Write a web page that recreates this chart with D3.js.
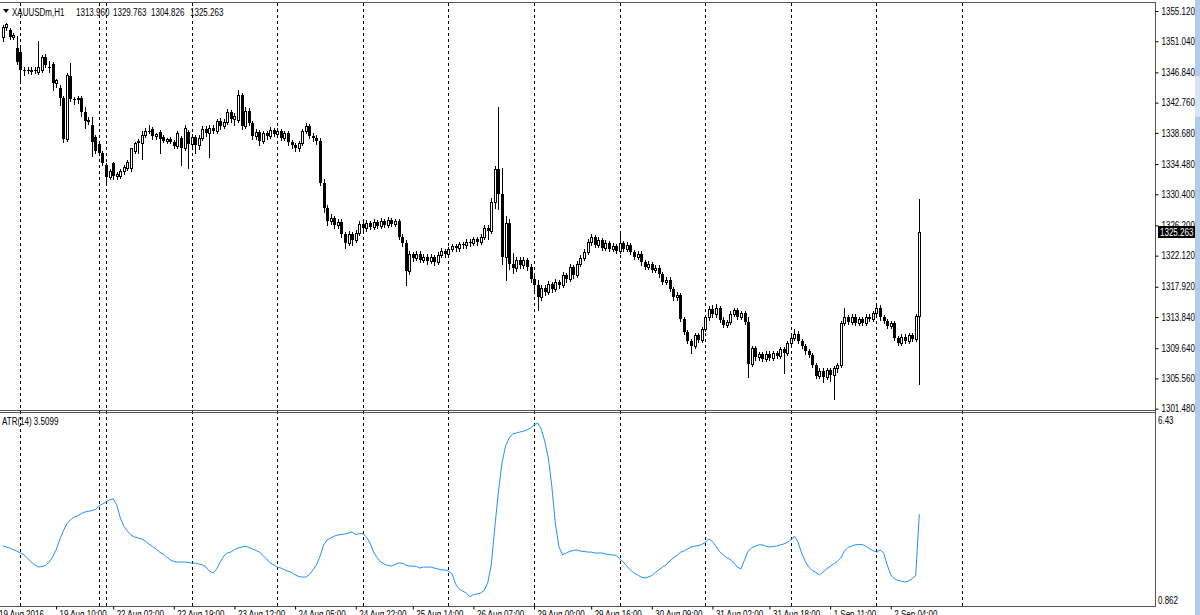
<!DOCTYPE html>
<html><head><meta charset="utf-8">
<script src="https://cdn.jsdelivr.net/npm/d3@7"></script>
<style>
body{margin:0;background:#fff;overflow:hidden}
svg text{font-family:"Liberation Sans",Arial,sans-serif;font-size:10px;fill:#000}
</style>
</head><body>
<svg id="chart" width="1200" height="615"></svg>
<script>
// ---------- data ----------
const symbolLabel = "XAUUSDm,H1";
const headerValues = ["1313.960", "1329.763", "1304.826", "1325.263"];
const lastPrice = 1325.263;
const atrName = "ATR(14) 3.5099";

const open = [
1351.6,1352.9,1352.6,1351.6,1350.1,1349.6,1347.2,1347.1,1347.0,1347.2,
1346.9,1347.2,1348.9,1347.6,1348.0,1345.4,1344.7,1343.4,1337.9,1346.3,
1343.2,1343.2,1343.4,1341.5,1340.3,1339.7,1338.1,1337.2,1336.0,1334.3,
1332.7,1334.6,1332.9,1332.8,1333.6,1333.9,1333.9,1336.3,1337.5,1337.3,
1338.4,1339.0,1339.2,1338.3,1338.8,1338.1,1337.6,1337.8,1337.5,1336.9,
1338.0,1336.6,1338.8,1337.2,1338.1,1337.0,1338.0,1339.2,1338.6,1339.4,
1339.0,1340.3,1339.6,1340.2,1341.5,1340.6,1340.4,1343.8,1339.6,1341.6,
1340.0,1338.2,1338.8,1337.6,1338.7,1338.2,1339.1,1338.5,1338.9,1338.0,
1338.6,1337.4,1337.0,1336.6,1337.3,1338.9,1339.6,1338.3,1338.0,1337.6,
1331.9,1328.6,1326.8,1327.2,1326.2,1326.7,1325.0,1323.8,1325.0,1324.2,
1325.2,1326.4,1325.8,1326.5,1326.0,1326.6,1326.1,1326.8,1326.3,1326.9,
1326.4,1326.8,1324.6,1323.8,1320.0,1322.3,1321.8,1322.4,1321.6,1322.0,
1321.4,1321.9,1321.3,1322.2,1322.7,1322.3,1323.0,1323.4,1323.1,1323.7,
1323.5,1324.0,1323.8,1324.3,1324.0,1324.6,1325.8,1325.5,1329.4,1333.8,
1330.5,1322.0,1326.5,1321.0,1320.5,1321.6,1320.8,1321.5,1320.6,1319.0,
1318.2,1316.5,1317.8,1317.2,1318.3,1317.6,1318.6,1318.2,1319.5,1319.0,
1320.6,1319.5,1321.0,1321.8,1322.6,1323.9,1324.6,1323.6,1324.2,1323.2,
1323.8,1323.0,1323.4,1322.8,1323.8,1323.0,1323.5,1322.6,1322.0,1322.4,
1321.2,1320.6,1321.0,1320.2,1320.5,1319.6,1318.6,1318.9,1317.6,1316.5,
1316.8,1313.6,1311.8,1310.6,1310.0,1311.4,1310.8,1312.2,1313.8,1314.9,
1314.2,1315.0,1313.5,1312.8,1313.2,1314.3,1314.8,1313.9,1314.4,1313.2,
1307.5,1309.6,1308.4,1308.8,1308.2,1308.9,1308.3,1309.0,1308.6,1309.5,
1309.0,1310.3,1311.0,1311.6,1310.6,1309.9,1309.2,1308.7,1307.4,1305.9,
1306.6,1305.8,1306.7,1306.0,1307.0,1307.4,1313.0,1313.8,1313.2,1313.9,
1313.0,1313.6,1313.1,1313.9,1313.6,1314.4,1315.1,1313.8,1313.3,1312.6,
1313.0,1311.0,1310.4,1311.2,1310.6,1311.4,1310.9,1313.96];

const high = [
1353.2,1353.5,1352.8,1352.1,1351.7,1350.2,1347.6,1347.5,1347.5,1347.6,
1351.1,1349.2,1349.3,1348.4,1348.2,1346.0,1345.1,1343.6,1346.7,1348.1,
1343.5,1343.7,1343.6,1342.2,1340.8,1340.8,1338.4,1337.6,1336.3,1334.6,
1333.8,1334.8,1333.4,1333.8,1334.4,1335.0,1336.7,1337.5,1337.9,1338.9,
1339.3,1339.8,1339.5,1338.7,1339.1,1338.4,1338.0,1338.1,1337.7,1338.9,
1338.3,1339.8,1339.1,1338.5,1338.4,1338.4,1339.6,1339.6,1339.8,1339.8,
1340.6,1340.7,1340.5,1341.9,1341.8,1341.3,1344.5,1344.1,1342.2,1342.0,
1340.3,1339.2,1339.1,1339.0,1339.0,1339.5,1339.4,1339.3,1339.2,1338.9,
1338.9,1337.7,1337.3,1337.6,1339.2,1340.0,1339.9,1338.6,1338.4,1338.0,
1332.4,1329.0,1327.7,1327.5,1327.1,1327.0,1325.3,1325.4,1325.3,1325.6,
1326.8,1326.7,1326.9,1326.8,1327.0,1326.9,1327.2,1327.1,1327.3,1327.2,
1327.1,1327.0,1325.0,1324.2,1322.7,1322.6,1322.8,1322.7,1322.4,1322.3,
1322.3,1322.2,1322.6,1323.1,1323.0,1323.3,1323.7,1323.7,1324.0,1324.0,
1324.3,1324.3,1324.6,1324.6,1325.0,1326.2,1326.2,1329.9,1334.2,1342.2,
1334.0,1327.5,1327.0,1322.5,1322.0,1322.0,1321.9,1321.8,1321.0,1319.4,
1318.8,1318.2,1318.1,1318.7,1318.6,1319.0,1318.9,1319.9,1319.8,1321.0,
1320.9,1321.4,1322.2,1323.0,1324.3,1325.1,1324.9,1324.6,1324.5,1324.2,
1324.1,1323.8,1323.7,1325.0,1324.1,1323.9,1323.8,1322.9,1322.8,1322.7,
1321.5,1321.4,1321.3,1320.9,1320.8,1319.9,1319.3,1319.2,1317.9,1317.2,
1317.1,1313.9,1312.1,1310.9,1311.7,1311.7,1312.5,1314.1,1315.3,1315.5,
1315.6,1315.3,1313.8,1313.5,1314.6,1315.1,1315.1,1314.7,1314.7,1313.8,
1309.9,1309.9,1309.1,1309.1,1309.2,1309.2,1309.3,1309.3,1309.8,1309.8,
1310.6,1311.3,1312.2,1311.9,1310.9,1310.2,1309.5,1309.0,1307.7,1306.9,
1306.9,1307.0,1307.0,1307.3,1307.7,1313.3,1315.0,1314.1,1314.2,1314.2,
1313.9,1313.9,1314.2,1314.2,1314.7,1315.6,1315.4,1314.1,1313.6,1313.3,
1313.3,1311.3,1311.5,1311.5,1311.7,1311.7,1314.3,1329.763];

const low = [
1351.1,1352.5,1351.4,1351.4,1348.0,1345.8,1346.5,1346.7,1346.6,1346.8,
1346.6,1346.9,1347.6,1346.9,1344.5,1344.9,1342.4,1337.5,1337.6,1343.0,
1342.6,1342.7,1340.9,1339.3,1339.9,1335.5,1336.0,1335.8,1334.3,1331.6,
1332.5,1332.5,1332.5,1332.6,1333.2,1333.7,1333.6,1336.0,1336.0,1335.2,
1338.1,1338.6,1337.9,1337.9,1336.0,1337.4,1337.3,1337.3,1336.6,1336.7,
1334.4,1336.4,1334.0,1336.8,1336.0,1336.5,1337.7,1338.2,1335.4,1338.6,
1338.7,1339.2,1339.3,1339.9,1340.2,1339.8,1340.2,1339.2,1339.3,1339.7,
1337.8,1337.9,1337.0,1337.3,1337.9,1338.0,1338.2,1338.2,1337.7,1337.7,
1337.1,1336.6,1336.2,1336.3,1337.0,1338.6,1338.0,1337.6,1337.2,1331.6,
1328.0,1326.3,1326.4,1325.8,1325.9,1324.7,1323.2,1323.5,1323.5,1323.9,
1324.9,1325.4,1325.5,1325.7,1325.7,1325.8,1325.9,1326.0,1326.0,1326.1,
1326.1,1324.3,1323.4,1318.2,1319.6,1321.4,1321.5,1321.2,1321.3,1321.0,
1321.1,1320.9,1321.0,1321.9,1321.9,1322.0,1322.7,1322.8,1322.8,1323.1,
1323.2,1323.4,1323.5,1323.6,1323.7,1324.3,1324.3,1325.2,1328.6,1328.4,
1321.0,1318.8,1320.3,1319.8,1320.0,1320.4,1320.5,1320.2,1318.5,1317.2,
1314.8,1316.1,1316.8,1316.9,1317.2,1317.3,1317.8,1317.9,1318.6,1318.7,
1319.1,1319.2,1320.7,1321.5,1322.3,1323.6,1323.3,1323.3,1322.9,1322.9,
1322.7,1322.7,1322.5,1322.5,1322.7,1322.7,1322.3,1321.7,1321.7,1320.9,
1320.3,1320.3,1319.9,1319.9,1319.3,1318.3,1318.3,1317.3,1316.2,1316.2,
1313.3,1311.5,1310.3,1309.0,1309.7,1310.5,1310.5,1311.9,1313.5,1313.9,
1313.9,1313.2,1312.5,1312.5,1312.9,1314.0,1313.6,1313.6,1312.9,1305.8,
1307.2,1308.1,1308.1,1307.9,1307.9,1308.0,1308.0,1308.3,1308.3,1306.3,
1308.7,1310.0,1310.7,1310.3,1309.6,1308.9,1308.4,1307.1,1305.6,1305.6,
1305.1,1305.5,1305.2,1302.8,1306.4,1307.1,1312.7,1312.9,1312.9,1312.7,
1312.7,1312.8,1312.8,1313.3,1313.3,1314.1,1313.5,1313.0,1312.3,1312.3,
1310.7,1310.1,1310.1,1310.3,1310.3,1310.6,1310.6,1304.826];

const close = [
1353.0,1353.3,1351.6,1351.9,1348.3,1347.2,1347.1,1347.0,1347.2,1347.0,
1347.6,1348.9,1347.8,1347.4,1345.4,1345.8,1343.4,1337.9,1346.5,1343.2,
1343.1,1343.4,1341.5,1340.3,1340.4,1337.4,1336.2,1336.0,1334.6,1332.7,
1333.6,1332.8,1333.1,1333.6,1334.1,1334.7,1336.6,1337.3,1337.6,1338.4,
1339.0,1338.8,1338.2,1338.5,1337.9,1337.6,1337.8,1337.5,1336.9,1338.6,
1336.6,1339.4,1337.2,1338.1,1337.0,1338.0,1339.2,1338.6,1339.4,1339.0,
1340.3,1339.6,1340.2,1341.5,1340.6,1340.9,1343.8,1339.6,1341.6,1340.0,
1338.2,1338.8,1337.6,1338.7,1338.2,1339.1,1338.5,1338.9,1338.0,1338.6,
1337.4,1337.0,1336.6,1337.3,1338.9,1339.6,1338.3,1338.0,1337.6,1331.9,
1328.6,1326.8,1327.2,1326.2,1326.7,1325.0,1323.8,1325.0,1324.2,1325.2,
1326.4,1325.8,1326.5,1326.0,1326.6,1326.1,1326.8,1326.3,1326.9,1326.4,
1326.8,1324.6,1323.8,1320.0,1322.3,1321.8,1322.4,1321.6,1322.0,1321.4,
1321.9,1321.3,1322.2,1322.7,1322.3,1323.0,1323.4,1323.1,1323.7,1323.5,
1324.0,1323.8,1324.3,1324.0,1324.6,1325.8,1325.5,1329.4,1333.8,1330.5,
1322.0,1326.5,1321.0,1320.5,1321.6,1320.8,1321.5,1320.6,1319.0,1318.2,
1316.5,1317.8,1317.2,1318.3,1317.6,1318.6,1318.2,1319.5,1319.0,1320.6,
1319.5,1321.0,1321.8,1322.6,1323.9,1324.6,1323.6,1324.2,1323.2,1323.8,
1323.0,1323.4,1322.8,1323.8,1323.0,1323.5,1322.6,1322.0,1322.4,1321.2,
1320.6,1321.0,1320.2,1320.5,1319.6,1318.6,1318.9,1317.6,1316.5,1316.8,
1313.6,1311.8,1310.6,1310.0,1311.4,1310.8,1312.2,1313.8,1314.9,1314.2,
1315.0,1313.5,1312.8,1313.2,1314.3,1314.8,1313.9,1314.4,1313.2,1307.5,
1309.6,1308.4,1308.8,1308.2,1308.9,1308.3,1309.0,1308.6,1309.5,1309.0,
1310.3,1311.0,1311.6,1310.6,1309.9,1309.2,1308.7,1307.4,1305.9,1306.6,
1305.8,1306.7,1306.0,1307.0,1307.4,1313.0,1313.8,1313.2,1313.9,1313.0,
1313.6,1313.1,1313.9,1313.6,1314.4,1315.1,1313.8,1313.3,1312.6,1313.0,
1311.0,1310.4,1311.2,1310.6,1311.4,1310.9,1313.96,1325.263];

const atr = [
2.50,2.46,2.43,2.38,2.33,2.27,2.21,2.11,1.98,1.89,
1.82,1.84,1.87,1.97,2.14,2.37,2.69,2.97,3.20,3.33,
3.42,3.46,3.52,3.58,3.60,3.63,3.66,3.77,3.84,3.90,
3.97,4.00,3.81,3.39,3.13,2.97,2.85,2.78,2.75,2.72,
2.65,2.56,2.48,2.40,2.30,2.24,2.14,2.05,2.00,1.98,
1.98,1.98,1.97,1.95,1.95,1.92,1.89,1.82,1.69,1.63,
1.76,1.98,2.17,2.27,2.30,2.38,2.43,2.46,2.49,2.45,
2.40,2.35,2.30,2.19,2.08,1.95,1.89,1.82,1.79,1.73,
1.69,1.65,1.57,1.52,1.50,1.50,1.58,1.73,1.89,2.17,
2.53,2.69,2.75,2.81,2.85,2.86,2.88,2.91,2.94,2.86,
2.89,2.89,2.78,2.59,2.30,2.12,1.98,1.92,1.87,1.85,
1.90,1.95,1.95,1.89,1.85,1.85,1.84,1.79,1.82,1.82,
1.82,1.79,1.76,1.73,1.73,1.69,1.60,1.28,1.12,1.05,
0.99,0.87,0.94,0.96,0.99,1.07,1.31,1.89,3.10,4.22,
5.15,5.69,5.95,6.08,6.11,6.14,6.17,6.21,6.27,6.37,
6.43,6.24,5.85,5.31,4.38,3.17,2.46,2.21,2.27,2.32,
2.35,2.37,2.33,2.32,2.30,2.30,2.27,2.27,2.27,2.24,
2.22,2.21,2.19,2.08,1.98,1.85,1.73,1.63,1.57,1.50,
1.47,1.50,1.55,1.65,1.73,1.82,1.89,2.01,2.11,2.19,
2.29,2.33,2.40,2.46,2.49,2.51,2.54,2.61,2.72,2.64,
2.48,2.32,2.21,2.12,2.06,1.95,1.82,1.76,2.05,2.33,
2.43,2.49,2.53,2.53,2.49,2.46,2.48,2.49,2.53,2.56,
2.61,2.69,2.81,2.62,2.27,2.01,1.82,1.71,1.65,1.57,
1.66,1.76,1.84,1.92,2.00,2.11,2.33,2.45,2.49,2.53,
2.54,2.54,2.49,2.41,2.35,2.30,2.37,2.27,1.89,1.57,
1.45,1.39,1.37,1.34,1.37,1.45,1.55,3.5099];

const priceTicks = [1355.12,1351.04,1346.84,1342.76,1338.68,1334.48,1330.40,1326.20,1322.12,1317.92,1313.84,1309.64,1305.56,1301.48];
const atrScaleLabels = ["6.43", "0.862"];
const atrMin = 0.862, atrMax = 6.43;

// time axis: bar index of each label
const timeTickIndex = [-2, 15, 31, 48, 65, 82, 99, 115, 132, 149, 165, 182, 199, 215, 232, 249];
const timeTickLabels = ["19 Aug 2016","19 Aug 10:00","22 Aug 02:00","22 Aug 19:00","23 Aug 12:00","24 Aug 05:00","24 Aug 22:00","25 Aug 14:00","26 Aug 07:00","29 Aug 00:00","29 Aug 16:00","30 Aug 09:00","31 Aug 02:00","31 Aug 18:00","1 Sep 11:00","2 Sep 04:00"];
// period separators (bar index of day start)
const daySeparators = [5, 27, 29, 53, 77, 101, 125, 149, 173, 197, 221, 245, 269];

// ---------- layout ----------
const W = 1200, H = 615;
const plotRight = 1155;
const mainTop = 3, mainBottom = 410;
const subTop = 413, subBottom = 606;
const squeezeFactor = 0.8;

const svg = d3.select("#chart");
svg.append("rect").attr("width", W).attr("height", H).attr("fill", "#fff");

const n = close.length;
const x = d3.scaleLinear().domain([0, n - 1]).range([2.6, 919.3]);
const yP = d3.scaleLinear().domain([1301.30, 1356.20]).range([mainBottom, mainTop]);
const yA = d3.scaleLinear().domain([atrMin, atrMax]).range([597, 423]);

const defs = svg.append("defs");
defs.append("clipPath").attr("id", "clipMain").append("rect")
  .attr("x", 0).attr("y", mainTop).attr("width", plotRight).attr("height", mainBottom - mainTop);
defs.append("clipPath").attr("id", "clipSub").append("rect")
  .attr("x", 0).attr("y", subTop).attr("width", plotRight).attr("height", subBottom - subTop);

// separators (dashed verticals through both panes)
svg.append("g").selectAll("line").data(daySeparators).join("line")
  .attr("x1", d => Math.round(x(d)) + 0.5).attr("x2", d => Math.round(x(d)) + 0.5)
  .attr("y1", mainTop).attr("y2", subBottom)
  .attr("stroke", "#000").attr("stroke-width", 1).attr("stroke-dasharray", "3,3");

// candles
const bars = d3.range(n).map(i => ({i, o: open[i], h: high[i], l: low[i], c: close[i]}));
const gC = svg.append("g").attr("clip-path", "url(#clipMain)");
const cx = d => Math.round(x(d.i));
gC.selectAll("line.wick").data(bars).join("line").attr("class", "wick")
  .attr("x1", d => cx(d) + 0.5).attr("x2", d => cx(d) + 0.5)
  .attr("y1", d => Math.round(yP(Math.max(d.h, d.o, d.c)))).attr("y2", d => Math.round(yP(Math.min(d.l, d.o, d.c))) + 1)
  .attr("stroke", "#000").attr("stroke-width", 1);
gC.selectAll("rect.body").data(bars).join("rect").attr("class", "body")
  .each(function(d) {
    const yTop = Math.round(yP(Math.max(d.o, d.c)));
    const yBot = Math.round(yP(Math.min(d.o, d.c)));
    const bull = d.c >= d.o;
    const sel = d3.select(this);
    if (bull && yBot - yTop >= 2) {
      sel.attr("x", cx(d) - 1 + 0.5).attr("y", yTop + 0.5).attr("width", 2).attr("height", yBot - yTop)
        .attr("fill", "#fff").attr("stroke", "#000").attr("stroke-width", 1);
    } else {
      sel.attr("x", cx(d) - 1).attr("y", yTop).attr("width", 3).attr("height", Math.max(1, yBot - yTop + (bull ? 1 : 0)))
        .attr("fill", "#000");
    }
  });

// ATR line
const gA = svg.append("g").attr("clip-path", "url(#clipSub)");
gA.append("path").datum(atr)
  .attr("d", d3.line().x((d, i) => x(i)).y(d => yA(d)))
  .attr("fill", "none").attr("stroke", "#1E90FF").attr("stroke-width", 1);

// frames
const frame = svg.append("g").attr("stroke", "#555").attr("stroke-width", 1).attr("shape-rendering", "crispEdges");
frame.append("line").attr("x1", 0).attr("x2", plotRight).attr("y1", mainTop - 0.5).attr("y2", mainTop - 0.5);
frame.append("line").attr("x1", 0).attr("x2", plotRight).attr("y1", mainBottom + 0.5).attr("y2", mainBottom + 0.5);
frame.append("line").attr("x1", 0).attr("x2", plotRight).attr("y1", subTop - 0.5).attr("y2", subTop - 0.5);
frame.append("line").attr("x1", 0).attr("x2", plotRight).attr("y1", subBottom + 0.5).attr("y2", subBottom + 0.5);
frame.append("line").attr("x1", plotRight + 0.5).attr("x2", plotRight + 0.5).attr("y1", mainTop - 1).attr("y2", subBottom + 1);

// price axis
const pAxis = d3.axisRight(yP).tickValues(priceTicks).tickSize(3).tickPadding(3).tickFormat(d3.format(".3f"));
const gP = svg.append("g").attr("transform", `translate(${plotRight + 0.5},0)`).call(pAxis);
gP.select(".domain").remove();
gP.selectAll("line").attr("stroke", "#000");
gP.selectAll("text").attr("font-size", null).attr("font-family", null).attr("fill", "#000");

// current price label
const lp = svg.append("g");
lp.append("rect").attr("x", plotRight + 3).attr("y", Math.round(yP(lastPrice)) - 6).attr("width", 38).attr("height", 12).attr("fill", "#000");
lp.append("text").attr("x", plotRight + 5).attr("y", yP(lastPrice)).attr("dy", "0.35em").style("fill", "#fff").text(d3.format(".3f")(lastPrice));

// ATR scale labels
svg.append("text").attr("x", plotRight + 3).attr("y", yA(atrMax) - 3).attr("dy", "0.35em").text(atrScaleLabels[0]);
svg.append("text").attr("x", plotRight + 3).attr("y", yA(atrMin) + 3).attr("dy", "0.35em").text(atrScaleLabels[1]);

// time axis
const tAxis = d3.axisBottom(x).tickValues(timeTickIndex).tickSize(3).tickFormat((d, i) => timeTickLabels[i]);
const gT = svg.append("g").attr("transform", `translate(0,${subBottom + 0.5})`).call(tAxis);
gT.select(".domain").remove();
gT.selectAll("line").attr("stroke", "#000");
gT.selectAll("text").attr("font-size", null).attr("font-family", null)
  .attr("text-anchor", "start").attr("x", 3).attr("y", 4).attr("fill", "#000");

// header
svg.append("path").attr("d", "M3,9 L9,9 L6,13 Z").attr("fill", "#000");
svg.append("text").attr("x", 12).attr("y", 16).text(symbolLabel);
const hx = [76, 113, 151, 190];
headerValues.forEach((v, k) => svg.append("text").attr("x", hx[k]).attr("y", 16).text(v));

// ATR name
svg.append("text").attr("x", 2).attr("y", 425).text(atrName);

// window scrollbar edge
svg.append("rect").attr("x", 1195).attr("y", 0).attr("width", 5).attr("height", H).attr("fill", "#b3cbe6");
svg.append("rect").attr("x", 1195).attr("y", 76).attr("width", 5).attr("height", 41).attr("fill", "#d8e4f2");

// narrow the terminal-style text horizontally
svg.selectAll("text").each(function() {
  const len = this.getComputedTextLength();
  d3.select(this).attr("textLength", len * squeezeFactor).attr("lengthAdjust", "spacingAndGlyphs");
});
</script>
</body></html>
